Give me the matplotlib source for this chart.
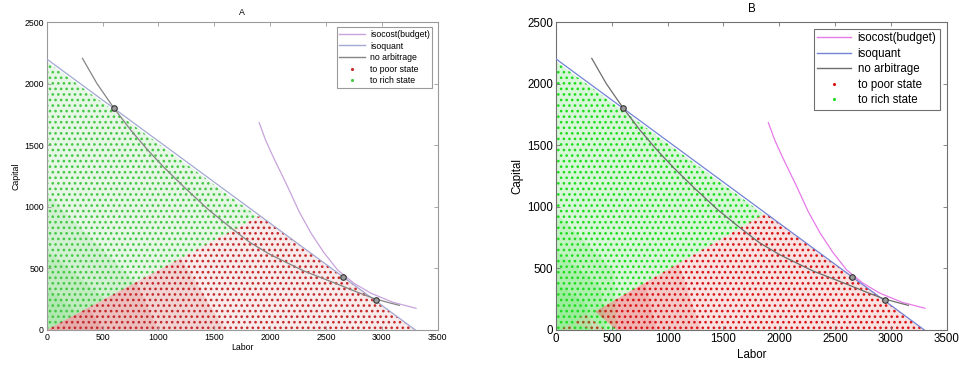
import matplotlib
matplotlib.use('Agg')
import matplotlib.pyplot as plt
from matplotlib.patches import Polygon
from matplotlib.lines import Line2D

plt.rcParams['font.family'] = ['Liberation Sans', 'DejaVu Sans']
plt.rcParams['hatch.linewidth'] = 1.1

# curves (Labor, Capital)
isoquant_L = [0, 3300]
isoquant_K = [2200, 0]

isocost_L = [1902, 1960, 2030, 2100, 2157, 2260, 2367, 2480, 2604, 2750, 2903, 3100, 3306]
isocost_K = [1683, 1540, 1400, 1270, 1163, 960, 785, 630, 487, 380, 298, 225, 176]

noarb_L = [320, 450, 597, 750, 900, 1050, 1230, 1450, 1648, 1820, 2006, 2300, 2604, 2800, 2932, 3050, 3157]
noarb_K = [2205, 2000, 1807, 1625, 1465, 1320, 1160, 975, 830, 710, 610, 480, 372, 300, 255, 225, 200]

circle_L = [600, 2650, 2950]
circle_K = [1800, 433, 240]

# regions covered by the simulated points (corners)
rich_region = [(0, 0), (0, 2180), (3270, 0)]
rich_dense_A = [[(0, 0), (0, 1100), (800, 388)],
                [(0, 0), (0, 650), (520, 252)],
                [(0, 0), (0, 350), (280, 136)]]
poor_region_A = [[(0, 0), (1910, 927), (3300, 0)]]
poor_dense_A = [[(0, 0), (1200, 582), (1600, 0)],
                [(0, 0), (800, 388), (1000, 0)],
                [(0, 0), (380, 184), (500, 0)]]

rich_dense_B = [[(0, 0), (0, 950), (520, 480), (545, 0)],
                [(0, 0), (0, 650), (400, 350), (450, 0)],
                [(0, 0), (0, 380), (260, 220), (330, 0)]]
poor_region_B = [[(350, 150), (1878, 948), (3300, 0), (545, 0)],
                 [(160, 55), (255, 130), (440, 0), (320, 0)],
                 [(40, 0), (120, 50), (175, 0)]]
poor_dense_B = [[(350, 150), (1100, 540), (1300, 0), (545, 0)],
                [(350, 150), (800, 385), (900, 0), (545, 0)]]

xticks = [0, 500, 1000, 1500, 2000, 2500, 3000, 3500]
yticks = [0, 500, 1000, 1500, 2000, 2500]

styles = {
    'A': dict(fs=6.3, green='#45c845', red='#c42a2a', gtint='#e6f7e6', rtint='#f9ebeb',
              magenta='#c9a3dc', blue='#a3a9d2', gray='#858585', spine='#9a9a9a',
              xpad=1, tpad=5, rect=[0.0487, 0.0959, 0.4077, 0.8438]),
    'B': dict(fs=8.3, green='#1edc1e', red='#d81414', gtint='#d8f7d8', rtint='#fae2e2',
              magenta='#e77ae9', blue='#7383d6', gray='#6e6e6e', spine='#707070',
              xpad=3, tpad=7, rect=[0.5798, 0.0959, 0.4074, 0.8438]),
}


def dotted(ax, pts, color, tint):
    ax.add_patch(Polygon(pts, closed=True, facecolor=tint, edgecolor=color,
                         linewidth=0, hatch='...', zorder=1))


def denser(ax, pts, color):
    ax.add_patch(Polygon(pts, closed=True, facecolor=color, edgecolor='none',
                         alpha=0.12, zorder=1.5))


def draw_panel(fig, name, rich_layers, poor_regions, poor_layers):
    st = styles[name]
    ax = fig.add_axes(st['rect'])
    fs = st['fs']

    dotted(ax, rich_region, st['green'], st['gtint'])
    for pts in rich_layers:
        denser(ax, pts, st['green'])
    for pts in poor_regions:
        dotted(ax, pts, st['red'], st['rtint'])
    for pts in poor_layers:
        denser(ax, pts, st['red'])

    ax.plot(isocost_L, isocost_K, color=st['magenta'], lw=0.9, zorder=3)
    ax.plot(isoquant_L, isoquant_K, color=st['blue'], lw=0.9, zorder=3)
    ax.plot(noarb_L, noarb_K, color=st['gray'], lw=0.9, zorder=3)
    ax.plot(circle_L, circle_K, 'o', ms=4, mfc='#9a9a9a', mec='#333333', mew=0.8, zorder=4)

    ax.set_xlim(0, 3500)
    ax.set_ylim(0, 2500)
    ax.set_xticks(xticks)
    ax.set_yticks(yticks)
    ax.tick_params(direction='in', top=True, right=True, labelsize=fs,
                   length=3, width=0.6, color=st['spine'], pad=2)
    for s in ax.spines.values():
        s.set_color(st['spine'])
        s.set_linewidth(0.8)
    ax.set_xlabel('Labor', fontsize=fs, labelpad=st['xpad'])
    ax.set_ylabel('Capital', fontsize=fs, labelpad=3)
    ax.set_title(name, fontsize=fs, pad=st['tpad'])

    handles = [Line2D([], [], color=st['magenta'], lw=1),
               Line2D([], [], color=st['blue'], lw=1),
               Line2D([], [], color=st['gray'], lw=1),
               Line2D([], [], ls='none', marker='.', ms=2.5, color=st['red']),
               Line2D([], [], ls='none', marker='.', ms=2.5, color=st['green'])]
    labels = ['isocost(budget)', 'isoquant', 'no arbitrage', 'to poor state', 'to rich state']
    leg = ax.legend(handles, labels, loc='upper right', fontsize=fs, fancybox=False,
                    framealpha=1, edgecolor=st['spine'], handlelength=2.9,
                    borderaxespad=0.6, borderpad=0.3, labelspacing=0.3, handletextpad=0.6)
    leg.get_frame().set_linewidth(0.8)
    return ax


fig = plt.figure(figsize=(9.59, 3.65), dpi=100)
draw_panel(fig, 'A', rich_dense_A, poor_region_A, poor_dense_A)
draw_panel(fig, 'B', rich_dense_B, poor_region_B, poor_dense_B)
fig.savefig('out.png', dpi=100)
